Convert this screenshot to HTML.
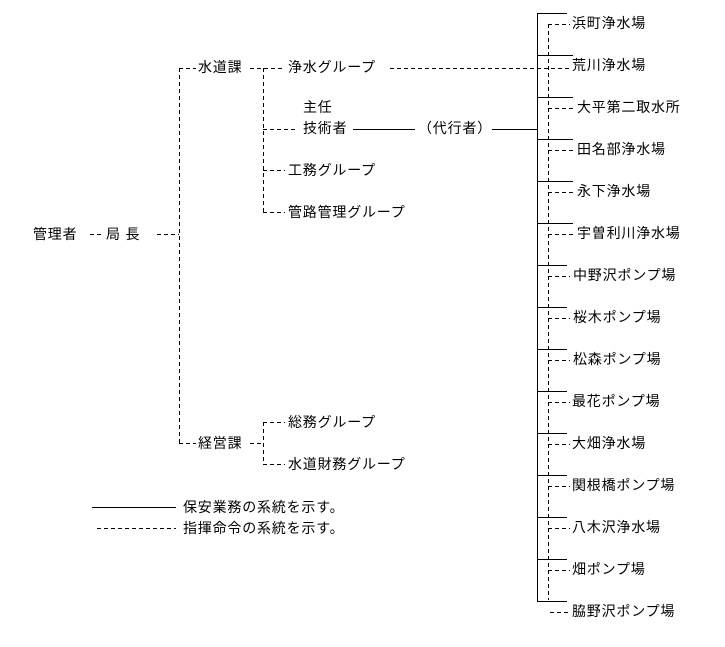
<!DOCTYPE html>
<html><head><meta charset="utf-8"><style>
html,body{margin:0;padding:0;background:#fff;}
svg{display:block;}
text{font-family:"Liberation Sans","Noto Sans CJK JP",sans-serif;font-size:14px;letter-spacing:0.8px;fill:#000;dominant-baseline:central;}
.s{stroke:#000;stroke-width:1;fill:none;}
.d{stroke:#000;stroke-width:1;fill:none;stroke-dasharray:4,3;}
</style></head><body>
<svg width="725" height="647" xmlns="http://www.w3.org/2000/svg">
<text x="33" y="234">管理者</text>
<line class="d" x1="90" y1="234.5" x2="103" y2="234.5"/>
<text x="106" y="234">局 長</text>
<line class="d" x1="157" y1="234.5" x2="179" y2="234.5"/>
<line class="d" x1="179.5" y1="68" x2="179.5" y2="443"/>
<line class="d" x1="179" y1="68.5" x2="196" y2="68.5"/>
<text x="198" y="67">水道課</text>
<line class="d" x1="179" y1="443.5" x2="196" y2="443.5"/>
<text x="198" y="443">経営課</text>

<line class="d" x1="250" y1="68.5" x2="285" y2="68.5"/>
<line class="d" x1="263.5" y1="68" x2="263.5" y2="212"/>
<text x="288" y="67">浄水グループ</text>
<line class="d" x1="390" y1="68.5" x2="570" y2="68.5"/>
<text x="303" y="107">主任</text>
<line class="d" x1="263" y1="129.5" x2="296" y2="129.5"/>
<text x="303" y="128">技術者</text>
<line class="s" x1="353" y1="129.5" x2="415" y2="129.5"/>
<text x="418" y="128">（代行者）</text>
<line class="s" x1="492" y1="129.5" x2="537" y2="129.5"/>
<line class="d" x1="263" y1="170.5" x2="285" y2="170.5"/>
<text x="288" y="170">工務グループ</text>
<line class="d" x1="263" y1="212.5" x2="285" y2="212.5"/>
<text x="288" y="212">管路管理グループ</text>

<line class="d" x1="250" y1="443.5" x2="263" y2="443.5"/>
<line class="d" x1="263.5" y1="422" x2="263.5" y2="464"/>
<line class="d" x1="263" y1="422.5" x2="285" y2="422.5"/>
<text x="288" y="422">総務グループ</text>
<line class="d" x1="263" y1="464.5" x2="285" y2="464.5"/>
<text x="288" y="464">水道財務グループ</text>

<line class="s" x1="92" y1="507.5" x2="176" y2="507.5"/>
<text x="183" y="507">保安業務の系統を示す。</text>
<line class="d" x1="97" y1="528.5" x2="176" y2="528.5"/>
<text x="183" y="528">指揮命令の系統を示す。</text>

<line class="s" x1="537.5" y1="13" x2="537.5" y2="601"/>
<line class="d" x1="548.5" y1="24" x2="548.5" y2="600"/>
<g class="s">
<line x1="537" y1="13.5" x2="567" y2="13.5"/>
<line x1="537" y1="55.5" x2="573" y2="55.5"/>
<line x1="537" y1="97.5" x2="573" y2="97.5"/>
<line x1="537" y1="139.5" x2="573" y2="139.5"/>
<line x1="537" y1="181.5" x2="573" y2="181.5"/>
<line x1="537" y1="223.5" x2="573" y2="223.5"/>
<line x1="537" y1="265.5" x2="567" y2="265.5"/>
<line x1="537" y1="307.5" x2="567" y2="307.5"/>
<line x1="537" y1="349.5" x2="567" y2="349.5"/>
<line x1="537" y1="391.5" x2="567" y2="391.5"/>
<line x1="537" y1="433.5" x2="567" y2="433.5"/>
<line x1="537" y1="475.5" x2="567" y2="475.5"/>
<line x1="537" y1="517.5" x2="567" y2="517.5"/>
<line x1="537" y1="559.5" x2="567" y2="559.5"/>
<line x1="537" y1="601.5" x2="567" y2="601.5"/>
</g>
<g class="d">
<line x1="548" y1="24.5" x2="570" y2="24.5"/>
<line x1="548" y1="108.5" x2="574" y2="108.5"/>
<line x1="548" y1="150.5" x2="574" y2="150.5"/>
<line x1="548" y1="192.5" x2="574" y2="192.5"/>
<line x1="548" y1="234.5" x2="574" y2="234.5"/>
<line x1="548" y1="276.5" x2="570" y2="276.5"/>
<line x1="548" y1="318.5" x2="570" y2="318.5"/>
<line x1="548" y1="360.5" x2="570" y2="360.5"/>
<line x1="548" y1="402.5" x2="570" y2="402.5"/>
<line x1="548" y1="444.5" x2="570" y2="444.5"/>
<line x1="548" y1="486.5" x2="570" y2="486.5"/>
<line x1="548" y1="528.5" x2="570" y2="528.5"/>
<line x1="548" y1="570.5" x2="570" y2="570.5"/>
<line x1="550" y1="612.5" x2="570" y2="612.5"/>
</g>
<text x="572" y="23">浜町浄水場</text>
<text x="572" y="65">荒川浄水場</text>
<text x="577" y="107">大平第二取水所</text>
<text x="577" y="149">田名部浄水場</text>
<text x="577" y="191">永下浄水場</text>
<text x="577" y="233">宇曽利川浄水場</text>
<text x="573" y="275">中野沢ポンプ場</text>
<text x="573" y="317">桜木ポンプ場</text>
<text x="573" y="359">松森ポンプ場</text>
<text x="572" y="401">最花ポンプ場</text>
<text x="572" y="443">大畑浄水場</text>
<text x="572" y="485">関根橋ポンプ場</text>
<text x="572" y="527">八木沢浄水場</text>
<text x="572" y="569">畑ポンプ場</text>
<text x="572" y="611">脇野沢ポンプ場</text>
</svg>
</body></html>
